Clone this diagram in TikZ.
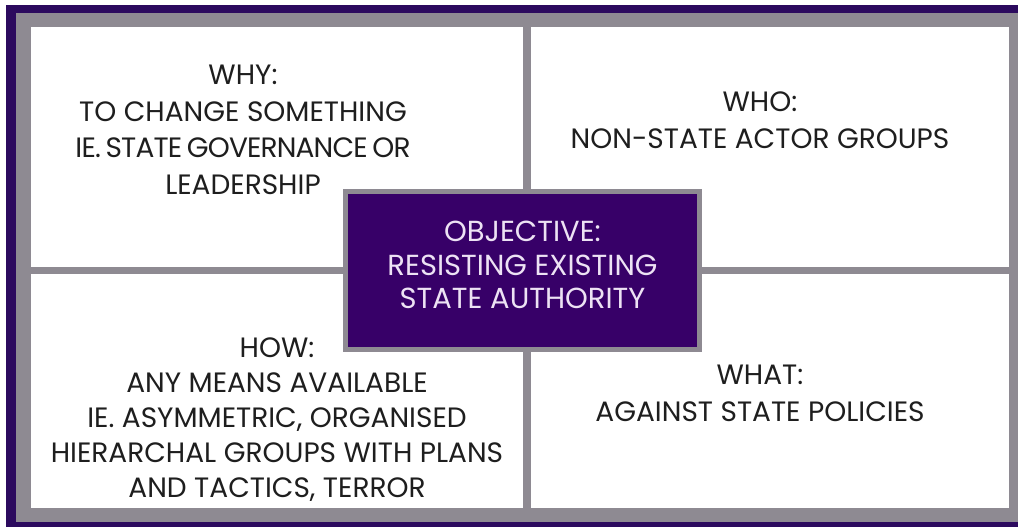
\documentclass[tikz,border=0pt]{standalone}
\usepackage{fontspec}
\setmainfont{Poppins}
\definecolor{frameP}{HTML}{2C0A5E}
\definecolor{boxP}{HTML}{370068}
\definecolor{greyF}{HTML}{8E8A92}
\definecolor{txt}{HTML}{1E1E1E}
\definecolor{lav}{HTML}{EDE2F4}
\begin{document}
\begin{tikzpicture}[x=1pt,y=-1pt,
  qtext/.style={align=center,text=txt,font=\fontsize{28}{36.5}\selectfont,inner sep=0pt,anchor=north},
  htext/.style={align=center,text=txt,font=\fontsize{28}{35}\selectfont,inner sep=0pt,anchor=north},
  otext/.style={align=center,text=lav,font=\fontsize{29}{33.5}\selectfont,inner sep=0pt,anchor=north}]
\useasboundingbox (0,0) rectangle (1018,527);
\fill[white] (0,0) rectangle (1018,527);
\fill[frameP] (6,5) rectangle (1018,527);
\fill[greyF] (16,13) rectangle (1018,522);
\fill[white] (31,27) rectangle (1009,508);
% dividers
\fill[greyF] (523,27) rectangle (531,508);
\fill[greyF] (31,267) rectangle (1009,274);
% centre box
\fill[greyF] (343,189) rectangle (702,352);
\node[fill=boxP,minimum width=349pt,minimum height=153pt,inner sep=0pt] (obj) at (522.5,270.5) {};
\node[otext] (objt) at (522.5,221) {OBJECTIVE:\\RESISTING EXISTING\\STATE AUTHORITY};
\node[qtext] (why) at (243,65) {WHY:\\TO CHANGE SOMETHING\\{\addfontfeature{LetterSpace=-3}IE.\,STATE\,GOVERNANCE\,OR}\\LEADERSHIP};
\node[qtext] (who) at (760,92) {WHO:\\NON-STATE ACTOR GROUPS};
\node[htext] (how) at (277,338) {HOW:\\ANY MEANS AVAILABLE\\IE. ASYMMETRIC, ORGANISED\\HIERARCHAL GROUPS WITH PLANS\\AND TACTICS, TERROR};
\node[qtext] (what) at (760,365) {WHAT:\\AGAINST STATE POLICIES};
\end{tikzpicture}
\end{document}
